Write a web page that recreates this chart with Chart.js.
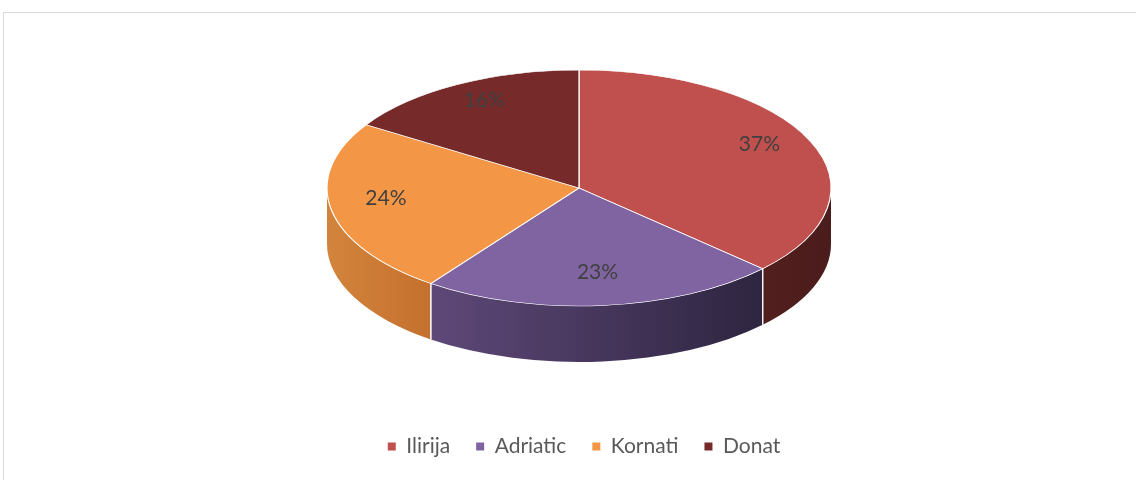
<!DOCTYPE html>
<html><head><meta charset="utf-8">
<script src="https://cdn.jsdelivr.net/npm/chart.js@4.4.0/dist/chart.umd.min.js"></script>
<style>
html,body{margin:0;padding:0;background:#fff;}
#wrap{position:relative;width:1136px;height:480px;overflow:hidden;}
#frame{position:absolute;left:3px;top:12px;width:1200px;height:600px;border-left:1px solid #d9d9d9;border-top:1px solid #d9d9d9;}
canvas{position:absolute;left:0;top:0;}
</style></head><body>
<div id="wrap"><div id="frame"></div><canvas id="c" width="1136" height="480"></canvas></div>
<script>
const categories = ['Ilirija', 'Adriatic', 'Kornati', 'Donat'];
const shares = [37, 23, 24, 16];
const percentLabels = shares.map(v => v + '%');
const topColors = ['#C0504D', '#8064A2', '#F39646', '#772A2A'];
const wallLeft = ['#521F1E', '#5E4878', '#D3843C', '#4A1A19'];
const wallRight = ['#4A1C1B', '#2E2540', '#C4702E', '#3A1412'];

const GEOM = { cx: 579, cy: 188, rx: 252, ry: 118, depth: 56, labelF: 0.78, labelDy: -7 };

const pie3d = {
  id: 'pie3d',
  beforeDatasetsDraw(chart) {
    const meta = chart.getDatasetMeta(0);
    const ctx = chart.ctx;
    const { cx, cy, rx, ry, depth } = GEOM;
    meta.data.forEach((arc, i) => {
      const s = Math.max(arc.startAngle, 0), e = Math.min(arc.endAngle, Math.PI);
      if (e <= s) return;
      const xl = cx + rx * Math.cos(e), xr = cx + rx * Math.cos(s);
      const g = ctx.createLinearGradient(xl, 0, xr, 0);
      g.addColorStop(0, wallLeft[i]);
      g.addColorStop(1, wallRight[i]);
      ctx.save();
      ctx.beginPath();
      ctx.ellipse(cx, cy, rx, ry, 0, s, e, false);
      ctx.lineTo(cx + rx * Math.cos(e), cy + ry * Math.sin(e) + depth);
      ctx.ellipse(cx, cy + depth, rx, ry, 0, e, s, true);
      ctx.closePath();
      ctx.fillStyle = g;
      ctx.fill();
      ctx.restore();
    });
    meta.data.forEach((arc) => {
      [arc.startAngle, arc.endAngle].forEach(a => {
        if (a > 0.001 && a < Math.PI - 0.001) {
          const x = cx + rx * Math.cos(a), y = cy + ry * Math.sin(a);
          ctx.save();
          ctx.strokeStyle = 'rgba(255,255,255,0.85)';
          ctx.lineWidth = 1.2;
          ctx.beginPath();
          ctx.moveTo(x, y);
          ctx.lineTo(x, y + depth);
          ctx.stroke();
          ctx.restore();
        }
      });
    });
    const a0 = meta.data[0];
    const R = a0.outerRadius;
    ctx.save();
    ctx.translate(cx, cy);
    ctx.scale(rx / R, ry / R);
    ctx.translate(-a0.x, -a0.y);
  },
  afterDatasetsDraw(chart) {
    const ctx = chart.ctx;
    ctx.restore();
    const meta = chart.getDatasetMeta(0);
    const { cx, cy, rx, ry, labelF, labelDy } = GEOM;
    ctx.save();
    ctx.font = '21px Lato, "Liberation Sans", sans-serif';
    ctx.fillStyle = '#404040';
    ctx.textAlign = 'center';
    ctx.textBaseline = 'middle';
    meta.data.forEach((arc, i) => {
      const mid = (arc.startAngle + arc.endAngle) / 2;
      const x = cx + rx * labelF * Math.cos(mid);
      const y = cy + ry * labelF * Math.sin(mid) + labelDy;
      ctx.fillText(percentLabels[i], x, y);
    });
    ctx.restore();
  }
};

new Chart(document.getElementById('c'), {
  type: 'pie',
  data: {
    labels: categories,
    datasets: [{
      data: shares,
      backgroundColor: topColors,
      borderColor: '#ffffff',
      borderWidth: 1,
      clip: false
    }]
  },
  options: {
    responsive: false,
    animation: false,
    events: [],
    layout: { padding: { left: 32, bottom: 13 } },
    plugins: {
      tooltip: { enabled: false },
      legend: {
        position: 'bottom',
        labels: {
          boxWidth: 8,
          boxHeight: 8,
          padding: 26,
          color: '#595959',
          font: { family: 'Lato', size: 21 },
          generateLabels(chart) {
            const items = Chart.overrides.pie.plugins.legend.labels.generateLabels(chart);
            items.forEach(it => { it.lineWidth = 0; it.strokeStyle = it.fillStyle; });
            return items;
          }
        }
      }
    }
  },
  plugins: [pie3d]
});
</script>
</body></html>
